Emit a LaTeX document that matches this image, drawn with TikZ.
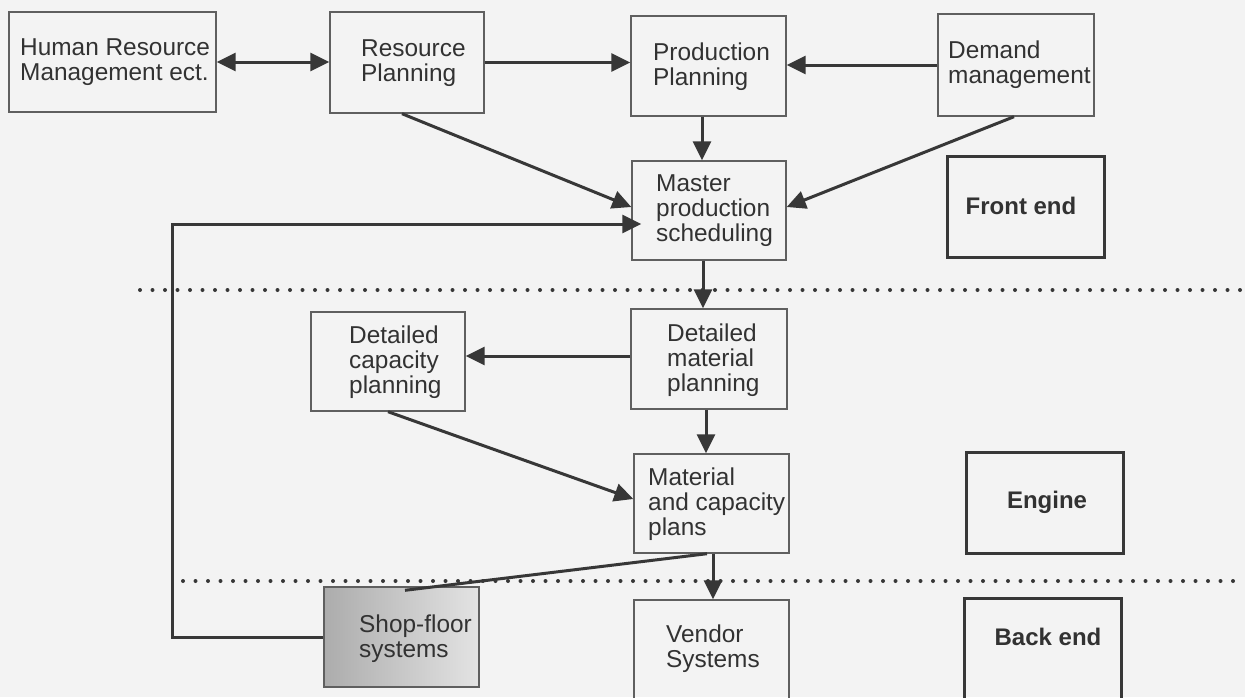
\documentclass[tikz,border=0pt]{standalone}
\usepackage{fontspec}
\setmainfont{Liberation Sans}
\usetikzlibrary{arrows.meta,calc}
\definecolor{bgc}{RGB}{243,243,243}
\definecolor{ln}{RGB}{55,55,55}
\definecolor{bx}{RGB}{95,95,95}
\definecolor{tx}{RGB}{50,50,50}
\begin{document}
\begin{tikzpicture}[x=1pt,y=-1pt,
  box/.style={draw=bx,line width=1.4pt,inner sep=0pt},
  tagbox/.style={draw=ln,line width=3pt,inner sep=0pt,minimum width=157pt,minimum height=101pt},
  lbl/.style={anchor=west,align=left,text=tx,font=\fontsize{24.4}{25}\selectfont,inner sep=0pt},
  blbl/.style={text=tx,font=\fontsize{24}{25}\selectfont\bfseries,inner sep=0pt},
  arr/.style={draw=ln,line width=3pt,-{Triangle[length=19pt,width=18pt]}},
  darr/.style={draw=ln,line width=3pt,{Triangle[length=19pt,width=18pt]}-{Triangle[length=19pt,width=18pt]}},
  con/.style={draw=ln,line width=3pt},
  dotline/.style={draw=ln,line width=4pt,line cap=round,dash pattern=on 0pt off 12.5pt}]
\useasboundingbox (0,0) rectangle (1245,697);
\fill[bgc] (0,0) rectangle (1245,697);

% boxes
\node[box,minimum width=207pt,minimum height=100pt] (hrm) at (112.5,62) {};
\node[box,minimum width=154pt,minimum height=101pt] (rp) at (407,62.5) {};
\node[box,minimum width=155pt,minimum height=100pt] (pp) at (708.5,66) {};
\node[box,minimum width=156pt,minimum height=102pt] (dm) at (1016,65) {};
\node[box,minimum width=154pt,minimum height=99pt] (mps) at (709,210.5) {};
\node[box,minimum width=154pt,minimum height=99pt] (dcp) at (388,361.5) {};
\node[box,minimum width=156pt,minimum height=100pt] (dmp) at (709,359) {};
\node[box,minimum width=155pt,minimum height=99pt] (mcp) at (711.5,503.5) {};
\node[box,minimum width=155pt,minimum height=100pt,shading=axis,left color=gray!65,right color=gray!22] (sfs) at (401.5,637) {};
\node[box,minimum width=155pt,minimum height=104pt] (ven) at (711.5,652) {};

\node[tagbox] (fe) at (1025.5,207) {};
\node[tagbox] (eng) at (1044.5,502.5) {};
\node[tagbox,minimum height=104pt] (be) at (1042.5,650) {};

% texts
\node[lbl] (hrmt) at (20,62) {Human Resource\\Management ect.};
\node[lbl] (rpt) at (361,63) {Resource\\Planning};
\node[lbl] (ppt) at (653,67) {Production\\Planning};
\node[lbl] (dmt) at (948,65) {Demand\\management};
\node[lbl] (mpst) at (656,211) {Master\\production\\scheduling};
\node[lbl] (dcpt) at (349,362) {Detailed\\capacity\\planning};
\node[lbl] (dmpt) at (667,360) {Detailed\\material\\planning};
\node[lbl] (mcpt) at (648,504) {Material\\and capacity\\plans};
\node[lbl] (sfst) at (359,639) {Shop-floor\\systems};
\node[lbl] (vent) at (666,649) {Vendor\\Systems};

\node[blbl] (fet) at (1021,206) {Front end};
\node[blbl] (engt) at (1047,502) {Engine};
\node[blbl] (bet) at (1048,637) {Back end};

% dotted separators
\coordinate (d1a) at (140,290);
\coordinate (d1b) at (1245,290);
\coordinate (d2a) at (183,581);
\coordinate (d2b) at (1245,581);
\draw[dotline] (d1a) -- (d1b);
\draw[dotline] (d2a) -- (d2b);

% connectors
\draw[darr] (hrm.east) -- (hrm.east -| rp.west);
\draw[arr] (rp.east) -- (rp.east -| pp.west);
\draw[arr] (dm.west) -- (dm.west -| pp.east);
\draw[arr] ([xshift=-5pt]rp.south) -- ([yshift=3.5pt]mps.west);
\draw[arr] ([xshift=-6.5pt]pp.south) -- ([xshift=-6.5pt]pp.south |- mps.north);
\draw[arr] ([xshift=-2pt]dm.south) -- ([yshift=3.5pt]mps.east);
\coordinate (fb) at (172,224);
\draw[arr] (sfs.west) -| (fb) -- ([xshift=10pt]fb -| mps.west);
\draw[arr] ([xshift=-6pt]mps.south) -- ([xshift=-6pt]mps.south |- dmp.north);
\draw[arr] ([yshift=3pt]dmp.west) -- ([yshift=3pt]dmp.west -| dcp.east);
\draw[arr] (dcp.south) -- ([yshift=4.5pt]mcp.west);
\draw[arr] ([xshift=-3pt]dmp.south) -- ([xshift=-3pt]dmp.south |- mcp.north);
\draw[arr] ([xshift=1.5pt]mcp.south) -- ([xshift=1.5pt]mcp.south |- ven.north);
\draw[con] ([xshift=-4.5pt]mcp.south) -- ([xshift=3.5pt,yshift=-4pt]sfs.north);
\end{tikzpicture}
\end{document}
